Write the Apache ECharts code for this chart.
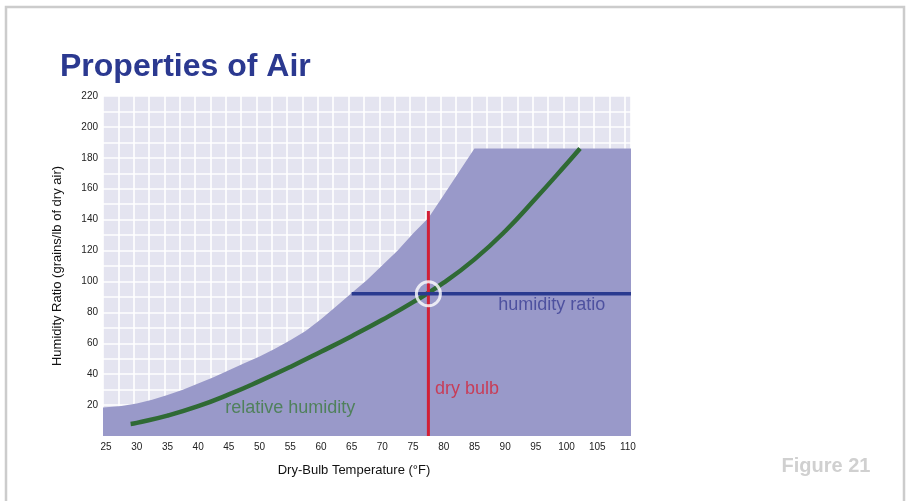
<!DOCTYPE html>
<html>
<head>
<meta charset="utf-8">
<script src="https://cdn.jsdelivr.net/npm/echarts@6/dist/echarts.min.js"></script>
<style>
html,body{margin:0;padding:0;background:#fff;}
#chart{width:907px;height:501px;}
</style>
</head>
<body>
<div id="chart"></div>
<script>
// Upper edge of the shaded (saturation) region
var boundaryTemp = [24.5, 25, 27.5, 30, 32.5, 35, 37.5, 40, 42.5, 45, 47.5, 50, 52.5, 55, 57.5, 60, 62.5, 65, 67.5, 70, 72.5, 75, 77.5, 80, 82.5, 85, 110.5];
var boundaryHum  = [18.5, 18.6, 19.4, 21, 23.5, 26.5, 30, 34, 38, 42.5, 47, 51.5, 56.5, 62, 68, 75.5, 84, 92.5, 101, 110.5, 120, 131, 141, 156, 171, 186, 186];
// Relative humidity curve
var rhTemp = [29, 30, 35, 40, 45, 50, 55, 60, 65, 70, 75, 80, 85, 90, 95, 100, 102.2];
var rhHum  = [7.8, 8.5, 13.2, 19.3, 26.9, 35.5, 44.7, 54.5, 64.6, 75.2, 86.6, 99.2, 114.3, 132.5, 153.8, 176, 186];
// Dry bulb / humidity ratio markers
var dryBulbTemp = 77.5;
var dryBulbTop = 145.6;
var humidityRatio = 92;
var humidityRatioStart = 65;
var axisMaxTemp = 110.5;
// Tick labels
var xTicks = [25, 30, 35, 40, 45, 50, 55, 60, 65, 70, 75, 80, 85, 90, 95, 100, 105, 110];
var yTicks = [20, 40, 60, 80, 100, 120, 140, 160, 180, 200, 220];
// Text annotations
var annoText = ['humidity ratio', 'dry bulb', 'relative humidity'];
var annoTemp = [97.6, 83.8, 55];
var annoHum  = [84.8, 30.4, 18];

var chart = echarts.init(document.getElementById('chart'), null, {renderer: 'canvas'});

function pairs(xs, ys) { return xs.map(function (x, i) { return [x, ys[i]]; }); }

var annoColors = ['#3b3f95', '#d3263b', '#3d7a40'];
var annoSeries = annoText.map(function (t, i) {
  return {
    type: 'scatter',
    xAxisIndex: 0,
    symbolSize: 0,
    z: 10,
    silent: true,
    data: [[annoTemp[i], annoHum[i]]],
    label: {
      show: true,
      position: 'inside',
      formatter: t,
      fontFamily: 'Liberation Sans, Arial, sans-serif',
      fontSize: 18,
      color: annoColors[i],
      textShadowColor: 'rgba(255,255,255,0.95)',
      textShadowBlur: 0,
      textShadowOffsetX: 1,
      textShadowOffsetY: 1
    }
  };
});

var option = {
  animation: false,
  backgroundColor: '#ffffff',
  grid: {
    left: 103, right: 276, top: 96, bottom: 65,
    show: true, backgroundColor: '#e4e4f0', borderWidth: 0
  },
  xAxis: [
    {
      type: 'value', min: 24.5, max: axisMaxTemp,
      axisLine: {show: false}, axisTick: {show: false}, splitLine: {show: false},
      axisLabel: {
        customValues: xTicks, margin: 6, fontSize: 10,
        fontFamily: 'Liberation Sans, Arial, sans-serif', color: '#222'
      }
    },
    {
      type: 'value', min: 0, max: 86, interval: 2.5, position: 'bottom',
      axisLine: {show: false}, axisTick: {show: false}, axisLabel: {show: false},
      splitLine: {show: true, lineStyle: {color: '#ffffff', width: 1.6}}
    }
  ],
  yAxis: {
    type: 'value', min: 0, max: 220, interval: 10,
    axisLine: {show: false}, axisTick: {show: false},
    splitLine: {show: true, lineStyle: {color: '#ffffff', width: 1.6}},
    axisLabel: {
      margin: 5, fontSize: 10, color: '#222',
      fontFamily: 'Liberation Sans, Arial, sans-serif',
      formatter: function (v) { return yTicks.indexOf(v) >= 0 ? String(v) : ''; }
    },
    name: 'Humidity Ratio (grains/lb of dry air)',
    nameLocation: 'middle',
    nameGap: 39,
    nameTextStyle: {fontSize: 13, color: '#111', fontFamily: 'Liberation Sans, Arial, sans-serif'}
  },
  series: [
    {
      type: 'line', xAxisIndex: 0, z: 2, silent: true,
      data: pairs(boundaryTemp, boundaryHum),
      smooth: false, symbol: 'none',
      lineStyle: {width: 0, color: '#9999c9'},
      areaStyle: {color: '#9999c9', opacity: 1}
    },
    {
      type: 'line', xAxisIndex: 0, z: 4, silent: true,
      data: pairs(rhTemp, rhHum),
      smooth: true, symbol: 'none',
      lineStyle: {width: 4.5, color: '#2f6a34'}
    },
    {
      type: 'line', xAxisIndex: 0, z: 5, silent: true,
      data: [[dryBulbTemp, 0], [dryBulbTemp, dryBulbTop]],
      symbol: 'none', lineStyle: {width: 3, color: '#d21f36'}
    },
    {
      type: 'line', xAxisIndex: 0, z: 5, silent: true,
      data: [[humidityRatioStart, humidityRatio], [axisMaxTemp, humidityRatio]],
      symbol: 'none', lineStyle: {width: 3.5, color: '#2a3a8f'}
    },
    {
      type: 'scatter', xAxisIndex: 0, z: 6, silent: true,
      data: [[dryBulbTemp, humidityRatio]],
      symbol: 'circle', symbolSize: 24,
      itemStyle: {color: 'rgba(0,0,0,0)', borderColor: '#ffffff', borderWidth: 3}
    }
  ].concat(annoSeries),
  graphic: [
    {
      type: 'rect', silent: true, z: 0,
      shape: {x: 6, y: 7, width: 898, height: 540},
      style: {fill: 'none', stroke: '#cccccc', lineWidth: 2.5}
    },
    {
      type: 'text', left: 60, top: 51,
      style: {
        text: 'Properties of Air', fill: '#2b3990',
        font: 'bold 32px "Liberation Sans", Arial, sans-serif'
      }
    },
    {
      type: 'text', x: 354, y: 470,
      style: {
        text: 'Dry-Bulb Temperature (°F)', fill: '#111',
        font: '13px "Liberation Sans", Arial, sans-serif',
        align: 'center', verticalAlign: 'middle'
      }
    },
    {
      type: 'text', x: 826, y: 466,
      style: {
        text: 'Figure 21', fill: '#d0d0d0',
        font: 'bold 20px "Liberation Sans", Arial, sans-serif',
        align: 'center', verticalAlign: 'middle'
      }
    }
  ]
};
chart.setOption(option);
</script>
</body>
</html>
